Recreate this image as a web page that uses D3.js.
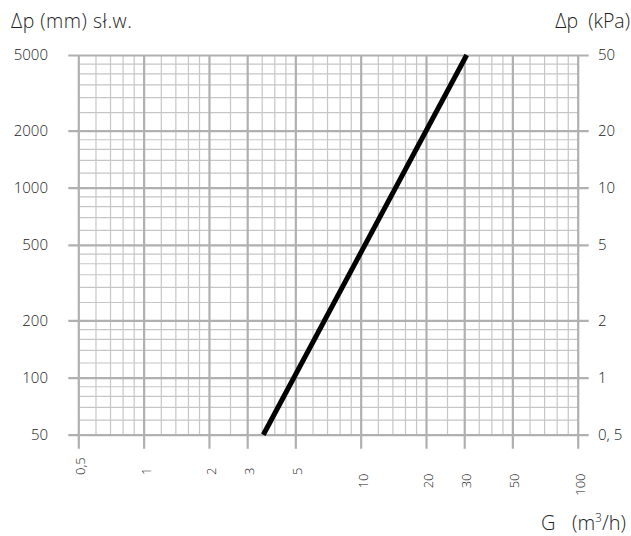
<!doctype html>
<html>
<head>
<meta charset="utf-8"/>
<title>Spadek ciśnienia</title>
<script src="https://d3js.org/d3.v7.min.js"></script>
<style>
body { margin: 0; background: #fff; }
text { font-family: 'Open Sans', 'DejaVu Sans', sans-serif; font-weight: 300; fill: #222; }
</style>
</head>
<body>
<svg id="chart"></svg>
<script>
// flow G (m3/h), bottom axis
const gTicks = [0.5, 1, 2, 3, 5, 10, 20, 30, 50, 100]
const gLabels = ['0,5', '1', '2', '3', '5', '10', '20', '30', '50', '100']
const gMinor = [0.6, 0.7, 0.8, 0.9, 1.2, 1.4, 1.6, 1.8, 2.5, 3.5, 4, 4.5,
    6, 7, 8, 9, 12, 14, 16, 18, 25, 35, 40, 45, 60, 70, 80, 90]

// pressure drop, mm w.c. on the left, kPa on the right
const dpTicks = [50, 100, 200, 500, 1000, 2000, 5000]
const dpLabels = ['50', '100', '200', '500', '1000', '2000', '5000']
const kpaLabels = ['0, 5', '1', '2', '5', '10', '20', '50']
const dpMinor = [60, 70, 80, 90, 120, 140, 160, 180, 250, 300, 350, 400, 450,
    600, 700, 800, 900, 1200, 1400, 1600, 1800, 2500, 3000, 3500, 4000, 4500]

const curveG = [3.56, 30.8]
const curveDp = [50, 5000]

const width = 631
const height = 536
const pLeft = 78.3, pRight = 577.7, pTop = 55, pBottom = 434.7

const svg = d3.select('#chart')
    .attr('width', width)
    .attr('height', height)

const x = d3.scaleLog().domain([0.5, 100]).range([pLeft, pRight])
const y = d3.scaleLog().domain([50, 5000]).range([pBottom, pTop])

function styleGrid(g, color, w) {
    g.select('.domain').remove()
    g.selectAll('.tick text').remove()
    g.selectAll('.tick line')
        .attr('stroke', color)
        .attr('stroke-width', w)
}

// minor grid
svg.append('g')
    .attr('transform', `translate(0,${pBottom})`)
    .call(d3.axisBottom(x).tickValues(gMinor).tickSize(-(pBottom - pTop)))
    .call(styleGrid, '#c6c6c6', 1.2)
svg.append('g')
    .attr('transform', `translate(${pLeft},0)`)
    .call(d3.axisLeft(y).tickValues(dpMinor).tickSize(-(pRight - pLeft)))
    .call(styleGrid, '#c6c6c6', 1.2)

// major grid, sticking out past the plot as ticks
svg.append('g')
    .attr('transform', `translate(0,${pBottom + 14})`)
    .call(d3.axisBottom(x).tickValues(gTicks).tickSize(-(pBottom + 14 - pTop)))
    .call(styleGrid, '#b0b0b0', 2.2)
svg.append('g')
    .attr('transform', `translate(${pLeft - 10},0)`)
    .call(d3.axisLeft(y).tickValues(dpTicks).tickSize(-(pRight - pLeft + 21)))
    .call(styleGrid, '#b0b0b0', 2.2)

// curve
const line = d3.line()
    .x((d, i) => x(curveG[i]))
    .y(d => y(d))
svg.append('path')
    .datum(curveDp)
    .attr('d', line)
    .attr('fill', 'none')
    .attr('stroke', 'black')
    .attr('stroke-width', 5)

// left labels
svg.append('g').selectAll('text')
    .data(dpTicks)
    .join('text')
    .attr('x', 48)
    .attr('y', d => y(d))
    .attr('dy', '0.35em')
    .attr('text-anchor', 'end')
    .style('font-size', '15px')
    .text((d, i) => dpLabels[i])

// right labels
svg.append('g').selectAll('text')
    .data(dpTicks)
    .join('text')
    .attr('x', 598)
    .attr('y', d => y(d))
    .attr('dy', '0.35em')
    .style('font-size', '15px')
    .text((d, i) => kpaLabels[i])

// bottom labels, rotated; the small ones sit on a baseline, the rest hang from the top
svg.append('g').selectAll('text')
    .data(gTicks)
    .join('text')
    .attr('transform', d => `translate(${x(d) + 2.5},${d < 10 ? 475 : 473.5}) rotate(-90)`)
    .attr('dy', '0.35em')
    .attr('text-anchor', d => d < 10 ? 'start' : 'end')
    .style('font-size', '13px')
    .text((d, i) => gLabels[i])

// titles
svg.append('text')
    .attr('x', 11).attr('y', 28)
    .style('font-size', '19.5px')
    .style('letter-spacing', '0.5px')
    .text('Δp (mm) sł.w.')
svg.append('text')
    .attr('x', 630).attr('y', 28)
    .attr('text-anchor', 'end')
    .style('font-size', '19.5px')
    .attr('xml:space', 'preserve')
    .text('Δp  (kPa)')

svg.append('text')
    .attr('x', 541).attr('y', 530)
    .style('font-size', '20px')
    .text('G')
const unit = svg.append('text')
    .attr('x', 626).attr('y', 530)
    .attr('text-anchor', 'end')
    .style('font-size', '20px')
unit.append('tspan').text('(m')
unit.append('tspan').attr('dy', -8).style('font-size', '12px').text('3')
unit.append('tspan').attr('dy', 8).text('/h)')
</script>
</body>
</html>
